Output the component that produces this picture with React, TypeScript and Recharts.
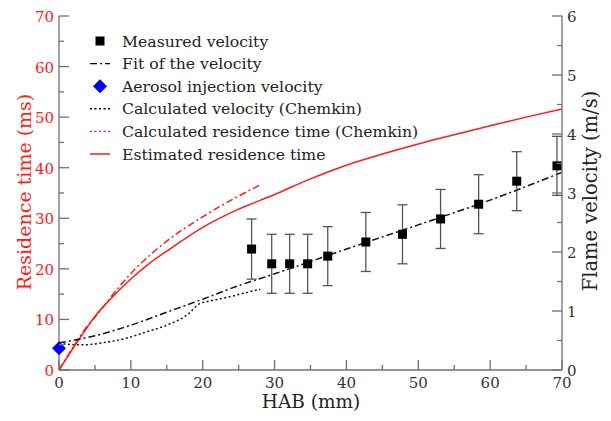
import React from 'react';
import { ComposedChart, Line, Scatter, XAxis, YAxis, ErrorBar, Legend, Label } from 'recharts';

// ---- ticks ----
const habTicks = [0, 5, 10, 15, 20, 25, 30, 35, 40, 45, 50, 55, 60, 65, 70];
const residenceTicks = [0, 5, 10, 15, 20, 25, 30, 35, 40, 45, 50, 55, 60, 65, 70];
const velocityTicks = [0, 0.5, 1, 1.5, 2, 2.5, 3, 3.5, 4, 4.5, 5, 5.5, 6];

// ---- measured velocity (m/s) ----
const measuredHab = [26.8, 29.6, 32.1, 34.6, 37.4, 42.7, 47.8, 53.1, 58.4, 63.7, 69.3];
const measuredVelocity = [2.05, 1.8, 1.8, 1.8, 1.93, 2.17, 2.3, 2.56, 2.81, 3.2, 3.46];
const measuredError = [0.51, 0.5, 0.5, 0.5, 0.5, 0.5, 0.5, 0.5, 0.5, 0.5, 0.5];

// ---- fit of the velocity (m/s) ----
const fitHab = [0, 5, 10, 15, 20, 25, 30, 40, 50, 60, 70];
const fitVelocity = [0.46, 0.58, 0.76, 0.98, 1.2, 1.43, 1.63, 2.05, 2.46, 2.88, 3.35];

// ---- aerosol injection velocity (m/s) ----
const injectionHab = [0];
const injectionVelocity = [0.37];

// ---- calculated velocity, Chemkin (m/s) ----
const chemVelHab = [0, 2, 4, 6, 8, 10, 12, 15, 18, 19.5, 21, 23, 25, 28];
const chemVelocity = [0.46, 0.43, 0.43, 0.46, 0.5, 0.56, 0.64, 0.76, 0.95, 1.12, 1.17, 1.22, 1.28, 1.37];

// ---- calculated residence time, Chemkin (ms) ----
const chemResHab = [0, 2, 4, 4.5, 6, 8, 10, 12.5, 15, 20, 25, 28];
const chemResidence = [0, 4.6, 8.8, 9.6, 12.2, 15.8, 19.1, 22.5, 25.5, 30.3, 34.4, 36.6];

// ---- estimated residence time (ms) ----
const estResHab = [0, 1, 2, 3, 4, 5, 7, 10, 12.5, 15, 20, 25, 30, 35, 40, 45, 50, 55, 60, 65, 70];
const estResidence = [0, 2.2, 4.4, 6.5, 8.6, 10.6, 13.8, 18.0, 21, 23.5, 28.2, 31.8, 34.7, 37.8, 40.5, 42.7, 44.7, 46.5, 48.3, 50, 51.6];

const zip = (xs: number[], ys: number[], es?: number[]) =>
  xs.map((hab, i) => (es ? { hab, v: ys[i], err: es[i] } : { hab, v: ys[i] }));

const measuredData = zip(measuredHab, measuredVelocity, measuredError);
const fitData = zip(fitHab, fitVelocity);
const injectionData = zip(injectionHab, injectionVelocity);
const chemVelData = zip(chemVelHab, chemVelocity);
const chemResData = zip(chemResHab, chemResidence);
const estResData = zip(estResHab, estResidence);

const FONT = 'DejaVu Serif';
const AXIS = '#707070';
const RED = '#ff1a1a';
const txt = (size: number): React.CSSProperties => ({ fontFamily: FONT, fontSize: size });

const BottomTick = (p: any) => {
  const major = p.payload.value % 10 === 0;
  return (
    <g>
      <line x1={p.x} y1={p.y} x2={p.x} y2={p.y - (major ? 10 : 5)} stroke={AXIS} strokeWidth={1.3} />
      {major && (
        <text x={p.x} y={p.y + 18} textAnchor="middle" style={txt(15)} fill="#333">
          {p.payload.value}
        </text>
      )}
    </g>
  );
};

const TopTick = (p: any) => {
  const major = p.payload.value % 10 === 0;
  return <line x1={p.x} y1={p.y} x2={p.x} y2={p.y + (major ? 10 : 5)} stroke={AXIS} strokeWidth={1.3} />;
};

const LeftTick = (p: any) => {
  const major = p.payload.value % 10 === 0;
  return (
    <g>
      <line x1={p.x} y1={p.y} x2={p.x + (major ? 10 : 5)} y2={p.y} stroke={AXIS} strokeWidth={1.3} />
      {major && (
        <text x={p.x - 5} y={p.y + 6} textAnchor="end" style={txt(15)} fill={RED}>
          {p.payload.value}
        </text>
      )}
    </g>
  );
};

const RightTick = (p: any) => {
  const major = Number.isInteger(p.payload.value);
  return (
    <g>
      <line x1={p.x} y1={p.y} x2={p.x - (major ? 10 : 5)} y2={p.y} stroke={AXIS} strokeWidth={1.3} />
      {major && (
        <text x={p.x + 5} y={p.y + 6} textAnchor="start" style={txt(15)} fill="#333">
          {p.payload.value}
        </text>
      )}
    </g>
  );
};

const legendItems = [
  { label: 'Measured velocity', kind: 'square' },
  { label: 'Fit of the velocity', kind: 'dashdot' },
  { label: 'Aerosol injection velocity', kind: 'diamond' },
  { label: 'Calculated velocity (Chemkin)', kind: 'dotted' },
  { label: 'Calculated residence time (Chemkin)', kind: 'reddotted' },
  { label: 'Estimated residence time', kind: 'redsolid' },
];

const LegendContent = () => (
  <svg width={360} height={140} style={{ display: 'block' }}>
    {legendItems.map((it, i) => {
      const cy = 11 + i * 22.6;
      let sym: React.ReactNode = null;
      if (it.kind === 'square') sym = <rect x={7.5} y={cy - 4.5} width={9} height={9} fill="#000" />;
      if (it.kind === 'diamond')
        sym = <polygon points={`12,${cy - 7} 19,${cy} 12,${cy + 7} 5,${cy}`} fill="#0000ff" />;
      if (it.kind === 'dashdot')
        sym = <line x1={2} y1={cy} x2={22} y2={cy} stroke="#000" strokeWidth={1.4} strokeDasharray="7 3 2 3" />;
      if (it.kind === 'dotted')
        sym = <line x1={2} y1={cy} x2={22} y2={cy} stroke="#000" strokeWidth={1.4} strokeDasharray="2 2.5" />;
      if (it.kind === 'reddotted')
        sym = <line x1={2} y1={cy} x2={22} y2={cy} stroke={RED} strokeWidth={1.4} strokeDasharray="2 2.5" />;
      if (it.kind === 'redsolid')
        sym = <line x1={2} y1={cy} x2={22} y2={cy} stroke={RED} strokeWidth={1.5} />;
      return (
        <g key={it.label}>
          {sym}
          <text x={34} y={cy + 5.5} style={txt(15.7)} fill="#222">
            {it.label}
          </text>
        </g>
      );
    })}
  </svg>
);

const SquareShape = (p: any) => <rect x={p.cx - 4.5} y={p.cy - 4.5} width={9} height={9} fill="#000" />;
const DiamondShape = (p: any) => (
  <polygon points={`${p.cx},${p.cy - 7} ${p.cx + 7},${p.cy} ${p.cx},${p.cy + 7} ${p.cx - 7},${p.cy}`} fill="#0000ff" />
);

export default function App() {
  return (
    <div style={{ position: 'absolute', left: 0, top: 0, width: 611, height: 421, background: '#fff' }}>
      <ComposedChart width={611} height={421} margin={{ top: 16, right: 0, bottom: 0, left: 0 }}>
        <XAxis
          xAxisId="bottom"
          dataKey="hab"
          type="number"
          domain={[0, 70]}
          ticks={habTicks}
          interval={0}
          height={51}
          tickSize={0}
          tickMargin={0}
          tickLine={false}
          axisLine={{ stroke: AXIS, strokeWidth: 1.3 }}
          tick={BottomTick}
        >
          <Label
            content={() => (
              <text x={311} y={408} textAnchor="middle" style={txt(18.5)} fill="#222">
                HAB (mm)
              </text>
            )}
          />
        </XAxis>
        <XAxis
          xAxisId="top"
          orientation="top"
          dataKey="hab"
          type="number"
          domain={[0, 70]}
          ticks={habTicks}
          interval={0}
          height={0}
          tickSize={0}
          tickMargin={0}
          tickLine={false}
          axisLine={{ stroke: AXIS, strokeWidth: 1.3 }}
          tick={TopTick}
        />
        <YAxis
          yAxisId="left"
          type="number"
          domain={[0, 70]}
          ticks={residenceTicks}
          interval={0}
          width={59}
          tickSize={0}
          tickMargin={0}
          tickLine={false}
          axisLine={{ stroke: AXIS, strokeWidth: 1.3 }}
          tick={LeftTick}
        >
          <Label
            content={() => (
              <text x={31} y={192} transform="rotate(-90 31 192)" textAnchor="middle" style={txt(19)} fill={RED}>
                Residence time (ms)
              </text>
            )}
          />
        </YAxis>
        <YAxis
          yAxisId="right"
          orientation="right"
          type="number"
          domain={[0, 6]}
          ticks={velocityTicks}
          interval={0}
          width={49}
          tickSize={0}
          tickMargin={0}
          tickLine={false}
          axisLine={{ stroke: AXIS, strokeWidth: 1.3 }}
          tick={RightTick}
        >
          <Label
            content={() => (
              <text x={597} y={191} transform="rotate(-90 597 191)" textAnchor="middle" style={txt(19.5)} fill="#222">
                Flame velocity (m/s)
              </text>
            )}
          />
        </YAxis>
        <Legend
          layout="vertical"
          align="center"
          verticalAlign="middle"
          content={LegendContent}
          wrapperStyle={{ position: 'absolute', left: 88, top: 30, width: 360, height: 140 }}
        />
        <Line
          data={estResData}
          dataKey="v"
          xAxisId="bottom"
          yAxisId="left"
          type="monotone"
          stroke={RED}
          strokeWidth={1.5}
          dot={false}
          isAnimationActive={false}
        />
        <Line
          data={chemResData}
          dataKey="v"
          xAxisId="bottom"
          yAxisId="left"
          type="monotone"
          stroke={RED}
          strokeWidth={1.5}
          strokeDasharray="7 3 2 3"
          dot={false}
          isAnimationActive={false}
        />
        <Line
          data={chemVelData}
          dataKey="v"
          xAxisId="bottom"
          yAxisId="right"
          type="monotone"
          stroke="#111"
          strokeWidth={1.5}
          strokeDasharray="2 2.5"
          dot={false}
          isAnimationActive={false}
        />
        <Line
          data={fitData}
          dataKey="v"
          xAxisId="bottom"
          yAxisId="right"
          type="monotone"
          stroke="#111"
          strokeWidth={1.5}
          strokeDasharray="7 3 2 3"
          dot={false}
          isAnimationActive={false}
        />
        <Scatter
          data={measuredData}
          dataKey="v"
          xAxisId="bottom"
          yAxisId="right"
          shape={SquareShape}
          isAnimationActive={false}
        >
          <ErrorBar dataKey="err" direction="y" width={5} stroke="#555" strokeWidth={1.3} isAnimationActive={false} />
        </Scatter>
        <Scatter
          data={injectionData}
          dataKey="v"
          xAxisId="bottom"
          yAxisId="right"
          shape={DiamondShape}
          isAnimationActive={false}
        />
      </ComposedChart>
    </div>
  );
}
